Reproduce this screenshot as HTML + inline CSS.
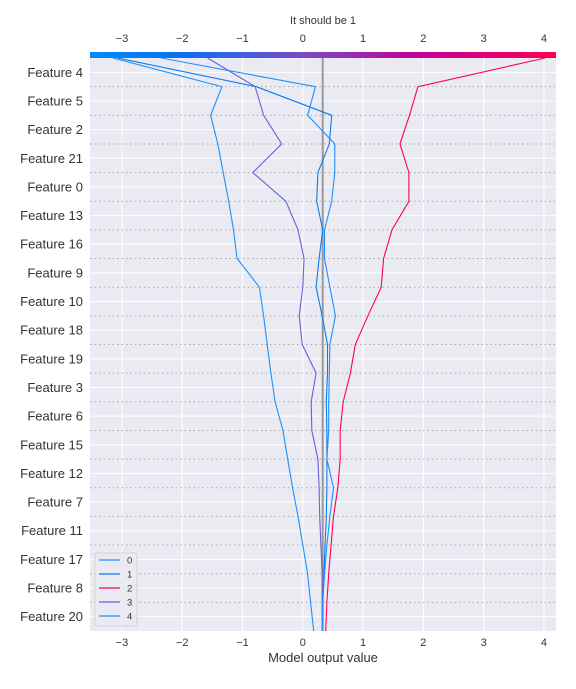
<!DOCTYPE html>
<html><head><meta charset="utf-8"><style>
body{margin:0;background:#fff;width:576px;height:684px;overflow:hidden}
svg{font-family:"Liberation Sans",sans-serif}
</style></head><body>
<svg id="chart" width="576" height="684" viewBox="0 0 576 684" xmlns="http://www.w3.org/2000/svg">
<defs><linearGradient id="cb" x1="0" x2="1" y1="0" y2="0">
<stop offset="0" stop-color="#008bfb"/><stop offset="0.2" stop-color="#0a70f0"/><stop offset="0.45" stop-color="#7a4cc8"/><stop offset="0.7" stop-color="#c0009a"/><stop offset="1" stop-color="#ff0052"/></linearGradient></defs>
<rect x="90" y="58" width="466" height="573" fill="#eaeaf2"/>
<g id="grid"></g>
<rect x="90" y="52" width="466" height="6" fill="url(#cb)"/>
<text x="323" y="24" font-size="11" text-anchor="middle" fill="#333">It should be 1</text>
<text x="323" y="662" font-size="13" text-anchor="middle" fill="#333">Model output value</text>
<g id="marks"></g>
<g id="legend"></g>
</svg>
<script>
const features=["Feature 4","Feature 5","Feature 2","Feature 21","Feature 0","Feature 13","Feature 16","Feature 9","Feature 10","Feature 18","Feature 19","Feature 3","Feature 6","Feature 15","Feature 12","Feature 7","Feature 11","Feature 17","Feature 8","Feature 20"];
const xTicks=[-3,-2,-1,0,1,2,3,4];
const baseValue=0.33;
const seriesNames=["0","1","2","3","4"];
const series0=[-3.15,-1.34,-1.53,-1.41,-1.32,-1.23,-1.15,-1.09,-0.72,-0.65,-0.59,-0.53,-0.46,-0.33,-0.25,-0.17,-0.08,0.0,0.08,0.13,0.18];
const series1=[-3.07,-0.77,0.48,0.44,0.25,0.23,0.33,0.27,0.22,0.32,0.41,0.41,0.39,0.40,0.40,0.40,0.39,0.37,0.35,0.33,0.32];
const series2=[4.02,1.91,1.77,1.61,1.76,1.76,1.48,1.34,1.30,1.08,0.87,0.79,0.67,0.62,0.62,0.58,0.51,0.47,0.43,0.40,0.38];
const series3=[-1.58,-0.79,-0.65,-0.35,-0.83,-0.28,-0.08,0.02,0.0,-0.06,-0.01,0.22,0.14,0.15,0.25,0.27,0.28,0.30,0.32,0.32,0.32];
const series4=[-2.35,0.21,0.08,0.53,0.53,0.48,0.36,0.36,0.45,0.54,0.45,0.44,0.43,0.43,0.40,0.51,0.45,0.40,0.36,0.33,0.32];
const colors=["#1e90ff","#0a7cf0","#ff0052","#6a5fe0","#1e90ff"];
const X0=90,X1=556,Y0=58,Y1=631,vmin=-3.53,vmax=4.2;
const xs=v=>X0+(v-vmin)/(vmax-vmin)*(X1-X0);
const rowH=(Y1-Y0)/features.length;
const yb=k=>Y0+k*rowH;
const NS="http://www.w3.org/2000/svg";
function mk(t,a,p){const e=document.createElementNS(NS,t);for(const k in a)e.setAttribute(k,a[k]);p.appendChild(e);return e;}
const grid=document.getElementById('grid'),svg=document.getElementById('chart'),marks=document.getElementById('marks'),leg=document.getElementById('legend');
xTicks.forEach(t=>{const x=xs(t);
 const gl=mk('line',{x1:x,x2:x,y1:Y0,y2:Y1,stroke:'#fff','stroke-width':1},grid);
 
 
 const lab=t<0?'\u2212'+(-t):String(t);
 const b=mk('text',{x:x,y:646,'font-size':11,'text-anchor':'middle',fill:'#333'},svg);b.textContent=lab;
 
 
 const tp=mk('text',{x:x,y:42,'font-size':11,'text-anchor':'middle',fill:'#333'},svg);tp.textContent=lab;
 
 
});
features.forEach((f,i)=>{const y=Y0+(i+0.5)*rowH;
 const gl=mk('line',{x1:X0,x2:X1,y1:y,y2:y,stroke:'#fff','stroke-width':1},grid);
 
 
 const t=mk('text',{x:83,y:y+4.5,'font-size':13,'text-anchor':'end',fill:'#333'},svg);t.textContent=f;
 
 
 if(i>0){const d=mk('line',{x1:X0,x2:X1,y1:yb(i),y2:yb(i),stroke:'#aaa','stroke-width':1,'stroke-dasharray':'1.5,3'},grid);
 
 }
});
const bl=mk('line',{x1:xs(baseValue),x2:xs(baseValue),y1:Y0,y2:Y1,stroke:'#999','stroke-width':2},marks);


[series0,series1,series2,series3,series4].forEach((s,j)=>{
 const pts=s.map((v,k)=>xs(v).toFixed(1)+','+yb(k).toFixed(1)).join(' ');
 const p=mk('polyline',{points:pts,fill:'none',stroke:colors[j],'stroke-width':1.1},marks);
 
 
});
mk('rect',{x:95,y:553,width:42,height:73,rx:2,fill:'#eaeaf2',stroke:'#ccc','stroke-width':0.8},leg);
seriesNames.forEach((n,j)=>{const y=560+j*14;
 const l=mk('line',{x1:99,x2:120,y1:y,y2:y,stroke:colors[j],'stroke-width':1.2},leg);
 
 
 const t=mk('text',{x:127,y:y+3.5,'font-size':9.5,fill:'#333'},leg);t.textContent=n;
 
 
});
</script>
</body></html>
